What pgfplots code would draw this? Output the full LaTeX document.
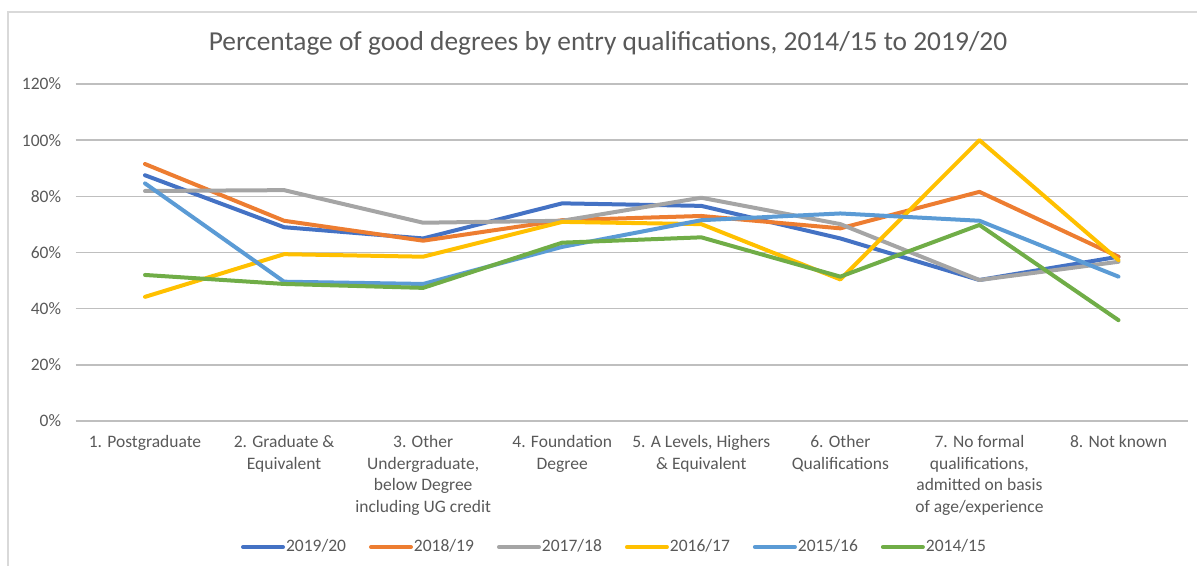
\documentclass[border=0pt]{standalone}
\usepackage{pgfplots}
\pgfplotsset{compat=1.18}
\usepackage{fontspec}
\setmainfont{Carlito}
\definecolor{c1}{HTML}{4472C4}
\definecolor{c2}{HTML}{ED7D31}
\definecolor{c3}{HTML}{A5A5A5}
\definecolor{c4}{HTML}{FFC000}
\definecolor{c5}{HTML}{5B9BD5}
\definecolor{c6}{HTML}{70AD47}
\definecolor{txt}{HTML}{595959}
\definecolor{grid}{HTML}{D9D9D9}
\begin{document}
\begin{tikzpicture}[x=1pt,y=1pt]
\useasboundingbox (0,0) rectangle (598.5,283);
\draw[grid, line width=0.8pt] (4,-5) -- (4,277) -- (610,277);
\node[txt, font=\fontsize{13.7}{16}\selectfont, anchor=center] at (304,261.5) {Percentage of good degrees by entry qualifications, 2014/15 to 2019/20};
\begin{axis}[
  at={(37.75pt,72.5pt)}, anchor=south west,
  scale only axis, width=556.25pt, height=168.5pt,
  xmin=0.5, xmax=8.5, ymin=0, ymax=120,
  xtick={1,...,8},
  xticklabels={{1. Postgraduate},{2. Graduate \&\\Equivalent},{3. Other\\Undergraduate,\\below Degree\\including UG credit},{4. Foundation\\Degree},{5. A Levels, Highers\\\& Equivalent},{6. Other\\Qualifications},{7. No formal\\qualifications,\\admitted on basis\\of age/experience},{8. Not known}},
  xticklabel style={align=center, font=\fontsize{8.75}{10.85}\selectfont, text=txt, anchor=north, inner sep=0pt, yshift=-7pt},
  ytick={0,20,...,120},
  yticklabel={\pgfmathprintnumber{\tick}\%},
  yticklabel style={font=\fontsize{8.75}{10.85}\selectfont, text=txt, anchor=east, inner sep=0pt, xshift=-7pt},
  /pgf/number format/assume math mode=true,
  major tick length=0pt,
  tick style={draw=none},
  xmajorgrids=false, ymajorgrids=true,
  grid style={grid, line width=0.7pt},
  axis line style={draw=none},
  every axis plot/.append style={line width=2pt, line join=round, line cap=round, mark=none},
  legend columns=6,
  legend style={at={(0.484,-0.374)}, anchor=center, draw=none, fill=none,
    font=\fontsize{8.75}{10.85}\selectfont, text=txt,
    nodes={inner sep=0.5pt},
    /tikz/every odd column/.append style={column sep=0pt},
    /tikz/every even column/.append style={column sep=11pt}},
  legend image code/.code={\draw[#1, line cap=round] (0pt,0pt) -- (20pt,0pt);},
]
\addplot[c1] coordinates {(1,87.5) (2,69) (3,65) (4,77.5) (5,76.6) (6,65) (7,50.2) (8,58.5)};
\addlegendentry{2019/20}
\addplot[c2] coordinates {(1,91.5) (2,71.3) (3,64.2) (4,71.5) (5,73) (6,68.6) (7,81.6) (8,58.5)};
\addlegendentry{2018/19}
\addplot[c3] coordinates {(1,81.9) (2,82.2) (3,70.6) (4,71.3) (5,79.5) (6,70.1) (7,50.2) (8,56.7)};
\addlegendentry{2017/18}
\addplot[c4] coordinates {(1,44.2) (2,59.4) (3,58.5) (4,70.9) (5,70.1) (6,50.4) (7,100) (8,57.3)};
\addlegendentry{2016/17}
\addplot[c5] coordinates {(1,84.6) (2,49.6) (3,48.8) (4,62) (5,71.5) (6,73.9) (7,71.3) (8,51.4)};
\addlegendentry{2015/16}
\addplot[c6] coordinates {(1,52) (2,48.8) (3,47.4) (4,63.5) (5,65.4) (6,51.4) (7,69.8) (8,35.9)};
\addlegendentry{2014/15}
\end{axis}
\end{tikzpicture}
\end{document}
